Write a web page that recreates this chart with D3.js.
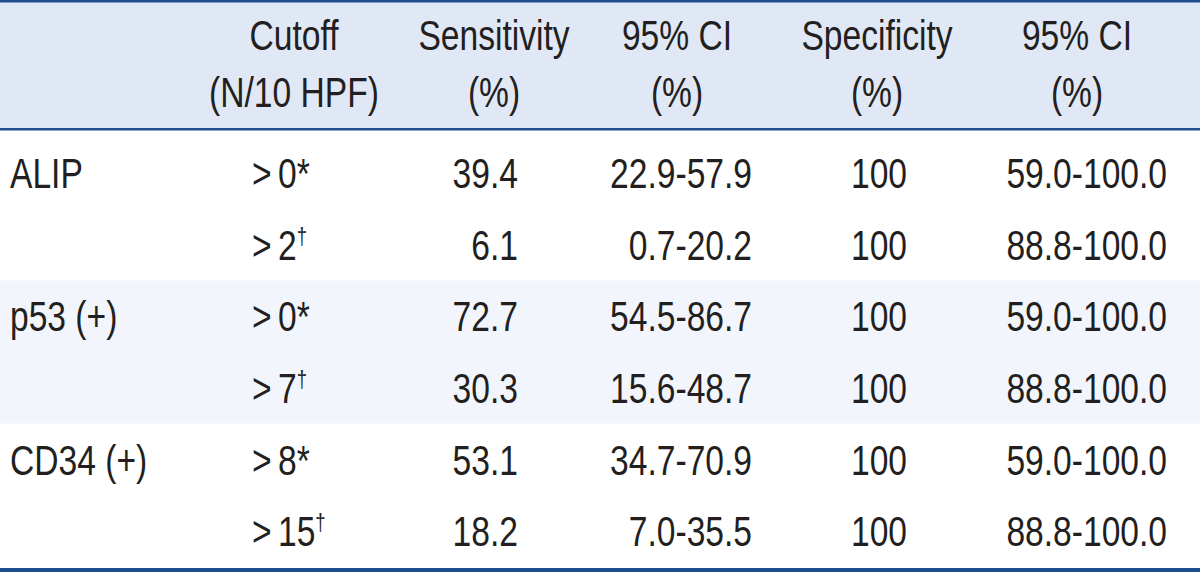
<!DOCTYPE html>
<html>
<head>
<meta charset="utf-8">
<script src="https://cdn.jsdelivr.net/npm/d3@7"></script>
<style>
  html, body { margin: 0; padding: 0; background: #ffffff; }
  svg text { font-family: "Liberation Sans", Arial, sans-serif; fill: #231f20; }
</style>
</head>
<body>
<svg id="chart" width="1200" height="572"></svg>
<script>
// ---- Data ----
const headerLine1 = ["", "Cutoff", "Sensitivity", "95% CI", "Specificity", "95% CI"];
const headerLine2 = ["", "(N/10 HPF)", "(%)", "(%)", "(%)", "(%)"];
const groups = ["ALIP", "p53 (+)", "CD34 (+)"];
const cutoffValues = ["0", "2", "0", "7", "8", "15"];
const cutoffMarks = ["*", "\u2020", "*", "\u2020", "*", "\u2020"];
const sensitivity = ["39.4", "6.1", "72.7", "30.3", "53.1", "18.2"];
const sensitivityCI = ["22.9-57.9", "0.7-20.2", "54.5-86.7", "15.6-48.7", "34.7-70.9", "7.0-35.5"];
const specificity = ["100", "100", "100", "100", "100", "100"];
const specificityCI = ["59.0-100.0", "88.8-100.0", "59.0-100.0", "88.8-100.0", "59.0-100.0", "88.8-100.0"];

// ---- Layout ----
const W = 1200, H = 572;
const fontSize = 42;
const sx = 0.8; // condensed look
const dark = "#1f4e8e";
const headerBg = "#e1e8f5";
const bandBg = "#f2f6fc";

const svg = d3.select("#chart");

const rowIdx = d3.range(sensitivity.length);
const y = d3.scaleBand().domain(rowIdx).range([137, 567]);
const gy = d3.scaleBand().domain(d3.range(groups.length)).range([137, 567]);

const colX = {
  group: 10,
  cutoffLeft: 252,
  sensRight: 518,
  sciRight: 752,
  specCenter: 879,
  pciRight: 1167
};
const headCenters = [0, 294, 494, 677, 877, 1077];

// backgrounds
svg.append("rect").attr("x", 0).attr("y", 0).attr("width", W).attr("height", 130).attr("fill", headerBg);
svg.selectAll("rect.band").data(d3.range(groups.length).filter(i => i % 2 === 1))
  .join("rect").attr("class", "band")
  .attr("x", 0).attr("y", i => gy(i)).attr("width", W).attr("height", gy.bandwidth())
  .attr("fill", bandBg);

// rules
svg.append("rect").attr("x", 0).attr("y", 0).attr("width", W).attr("height", 2.5).attr("fill", dark);
svg.append("rect").attr("x", 0).attr("y", 128).attr("width", W).attr("height", 2.5).attr("fill", dark);
svg.append("rect").attr("x", 0).attr("y", 568).attr("width", W).attr("height", 4).attr("fill", dark);

const place = (x, yy) => `translate(${x},${yy}) scale(${sx},1)`;

// header
const hd = svg.append("g").attr("font-size", fontSize).attr("text-anchor", "middle");
hd.selectAll("text.h1").data(headerLine1).join("text").attr("class", "h1")
  .attr("transform", (d, i) => place(headCenters[i], 50)).text(d => d);
hd.selectAll("text.h2").data(headerLine2).join("text").attr("class", "h2")
  .attr("transform", (d, i) => place(headCenters[i], 107)).text(d => d);

// body
const baseY = i => y(i) + y.bandwidth() / 2 + 15;
const body = svg.append("g").attr("font-size", fontSize);

body.selectAll("text.grp").data(groups).join("text").attr("class", "grp")
  .attr("transform", (d, i) => place(colX.group, baseY(i * 2))).text(d => d);

const cut = body.selectAll("text.cut").data(rowIdx).join("text").attr("class", "cut")
  .attr("transform", i => place(colX.cutoffLeft, baseY(i)));
cut.append("tspan").text(">");
cut.append("tspan").attr("dx", 8).text(i => cutoffValues[i]);
cut.append("tspan").attr("font-size", i => cutoffMarks[i] === "*" ? fontSize : fontSize * 0.55)
  .attr("dy", i => cutoffMarks[i] === "*" ? 0 : -15)
  .text(i => cutoffMarks[i]);

body.selectAll("text.sens").data(sensitivity).join("text").attr("class", "sens")
  .attr("transform", (d, i) => place(colX.sensRight, baseY(i))).attr("text-anchor", "end").text(d => d);
body.selectAll("text.sci").data(sensitivityCI).join("text").attr("class", "sci")
  .attr("transform", (d, i) => place(colX.sciRight, baseY(i))).attr("text-anchor", "end").text(d => d);
body.selectAll("text.spec").data(specificity).join("text").attr("class", "spec")
  .attr("transform", (d, i) => place(colX.specCenter, baseY(i))).attr("text-anchor", "middle").text(d => d);
body.selectAll("text.pci").data(specificityCI).join("text").attr("class", "pci")
  .attr("transform", (d, i) => place(colX.pciRight, baseY(i))).attr("text-anchor", "end").text(d => d);
</script>
</body>
</html>
